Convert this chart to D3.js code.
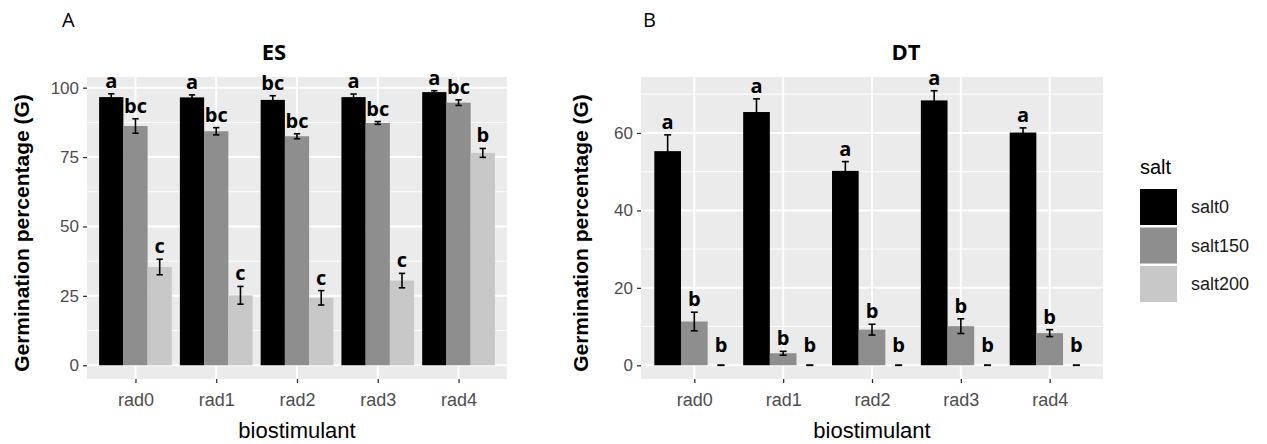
<!DOCTYPE html>
<html>
<head>
<meta charset="utf-8">
<script src="https://cdn.jsdelivr.net/npm/d3@7"></script>
<style>
  body { margin: 0; background: #fff; }
  text { font-family: "Liberation Sans", Arial, sans-serif; }
</style>
</head>
<body>
<div id="chart"></div>
<script>
// data
var biostimulants = ["rad0", "rad1", "rad2", "rad3", "rad4"];
var salts = ["salt0", "salt150", "salt200"];
var saltColors = ["#000000", "#8e8e8e", "#c8c8c8"];

// panel A (ES)
var esMean = {
  salt0:   [96.6, 96.5, 95.6, 96.6, 98.4],
  salt150: [86.2, 84.3, 82.5, 87.3, 94.6],
  salt200: [35.4, 25.2, 24.3, 30.5, 76.5]
};
var esSe = {
  salt0:   [1.2, 0.9, 1.5, 1.1, 0.5],
  salt150: [2.6, 1.3, 0.9, 0.5, 1.0],
  salt200: [2.8, 3.2, 2.6, 2.6, 1.6]
};
var esLetters = {
  salt0:   ["a", "a", "bc", "a", "a"],
  salt150: ["bc", "bc", "bc", "bc", "bc"],
  salt200: ["c", "c", "c", "c", "b"]
};
var esTicks = [0, 25, 50, 75, 100];

// panel B (DT)
var dtMean = {
  salt0:   [55.3, 65.4, 50.2, 68.4, 60.1],
  salt150: [11.3, 3.1, 9.2, 10.1, 8.3],
  salt200: [0, 0, 0, 0, 0]
};
var dtSe = {
  salt0:   [4.2, 3.4, 2.4, 2.5, 1.2],
  salt150: [2.4, 0.5, 1.4, 1.9, 0.9],
  salt200: [0, 0, 0, 0, 0]
};
var dtLetters = {
  salt0:   ["a", "a", "a", "a", "a"],
  salt150: ["b", "b", "b", "b", "b"],
  salt200: ["b", "b", "b", "b", "b"]
};
var dtTicks = [0, 20, 40, 60];

var W = 1267, H = 444;
var svg = d3.select("#chart").append("svg")
    .attr("width", W)
    .attr("height", H);

var color = d3.scaleOrdinal().domain(salts).range(saltColors);

function drawPanel(opt) {
    var g = svg.append("g");
    var x0 = opt.left, x1 = opt.right, y0 = 77, y1 = 379;

    // ggplot-style 5% expansion on y, 0.6 on discrete x
    var maxTop = d3.max(salts, function (s) {
        return d3.max(opt.mean[s], function (v, i) { return v + opt.se[s][i]; });
    });
    var ex = maxTop * 0.05;
    var y = d3.scaleLinear().domain([-ex, maxTop + ex]).range([y1, y0]);
    var x = d3.scalePoint().domain(biostimulants).range([x0, x1]).padding(0.6);
    var step = x.step();
    var sub = d3.scaleBand().domain(salts).range([-0.45 * step, 0.45 * step]);

    // panel background
    g.append("rect")
        .attr("x", x0).attr("y", y0)
        .attr("width", x1 - x0).attr("height", y1 - y0)
        .attr("fill", "#ebebeb");

    // minor grid
    var minor = [];
    for (var k = 0; k < opt.ticks.length - 1; k++) {
        minor.push((opt.ticks[k] + opt.ticks[k + 1]) / 2);
    }
    var lastT = opt.ticks[opt.ticks.length - 1], dt = opt.ticks[1] - opt.ticks[0];
    if (lastT + dt / 2 < y.domain()[1]) minor.push(lastT + dt / 2);
    g.selectAll(".minor").data(minor).enter().append("line")
        .attr("x1", x0).attr("x2", x1)
        .attr("y1", function (d) { return y(d); })
        .attr("y2", function (d) { return y(d); })
        .attr("stroke", "#fff").attr("stroke-width", 1);

    // major grid
    g.selectAll(".hmajor").data(opt.ticks).enter().append("line")
        .attr("x1", x0).attr("x2", x1)
        .attr("y1", function (d) { return y(d); })
        .attr("y2", function (d) { return y(d); })
        .attr("stroke", "#fff").attr("stroke-width", 2);
    g.selectAll(".vmajor").data(biostimulants).enter().append("line")
        .attr("x1", function (d) { return x(d); })
        .attr("x2", function (d) { return x(d); })
        .attr("y1", y0).attr("y2", y1)
        .attr("stroke", "#fff").attr("stroke-width", 2);

    // bars, error bars, letters
    salts.forEach(function (s) {
        var rows = biostimulants.map(function (b, i) {
            return { b: b, m: opt.mean[s][i], se: opt.se[s][i], lab: opt.letters[s][i] };
        });
        var bw = sub.bandwidth();
        function cx(d) { return x(d.b) + sub(s) + bw / 2; }

        g.selectAll(".bar-" + s).data(rows).enter().append("rect")
            .attr("x", function (d) { return x(d.b) + sub(s); })
            .attr("width", bw)
            .attr("y", function (d) { return y(d.m); })
            .attr("height", function (d) { return y(0) - y(d.m); })
            .attr("fill", color(s));

        var cap = bw * 0.13;
        var eb = g.selectAll(".err-" + s).data(rows).enter().append("g")
            .attr("stroke", "#000").attr("stroke-width", 1.6);
        eb.append("line")
            .attr("x1", cx).attr("x2", cx)
            .attr("y1", function (d) { return y(d.m - d.se); })
            .attr("y2", function (d) { return y(d.m + d.se); });
        eb.append("line")
            .attr("x1", function (d) { return cx(d) - cap; })
            .attr("x2", function (d) { return cx(d) + cap; })
            .attr("y1", function (d) { return y(d.m + d.se); })
            .attr("y2", function (d) { return y(d.m + d.se); });
        eb.append("line")
            .attr("x1", function (d) { return cx(d) - cap; })
            .attr("x2", function (d) { return cx(d) + cap; })
            .attr("y1", function (d) { return y(d.m - d.se); })
            .attr("y2", function (d) { return y(d.m - d.se); });

        g.selectAll(".lab-" + s).data(rows).enter().append("text")
            .attr("x", cx)
            .attr("y", function (d) { return Math.min(y(d.m + d.se) - 6, y(0) - 13); })
            .attr("text-anchor", "middle")
            .style("font-family", "'Open Sans', sans-serif")
            .style("font-weight", "bold")
            .style("font-size", "20px")
            .attr("fill", "#000")
            .text(function (d) { return d.lab; });
    });

    // y axis
    var ya = g.append("g").attr("transform", "translate(" + x0 + ",0)")
        .call(d3.axisLeft(y).tickValues(opt.ticks).tickSize(4).tickPadding(4));
    ya.select(".domain").remove();
    ya.selectAll(".tick line").attr("stroke", "#333").attr("stroke-width", 1.3);
    ya.selectAll(".tick text").attr("fill", "#4d4d4d")
        .style("font-size", "17px").style("font-family", "'Liberation Sans', Arial, sans-serif");

    // x axis
    var xa = g.append("g").attr("transform", "translate(0," + y1 + ")")
        .call(d3.axisBottom(x).tickSize(4).tickPadding(10));
    xa.select(".domain").remove();
    xa.selectAll(".tick line").attr("stroke", "#333").attr("stroke-width", 1.3);
    xa.selectAll(".tick text").attr("fill", "#4d4d4d")
        .style("font-size", "18px").style("font-family", "'Liberation Sans', Arial, sans-serif");

    // axis titles
    g.append("text")
        .attr("x", (x0 + x1) / 2).attr("y", 438)
        .attr("text-anchor", "middle")
        .style("font-size", "22px")
        .attr("fill", "#000")
        .text("biostimulant");
    g.append("text")
        .attr("transform", "translate(" + opt.ytitleX + "," + 233 + ") rotate(-90)")
        .attr("text-anchor", "middle")
        .style("font-size", "21px")
        .style("font-weight", "bold")
        .attr("fill", "#000")
        .text("Germination percentage (G)");

    // panel title and tag
    g.append("text")
        .attr("x", opt.titleX).attr("y", 60)
        .attr("text-anchor", "middle")
        .style("font-family", "'Open Sans', sans-serif")
        .style("font-weight", "bold")
        .style("font-size", "22px")
        .text(opt.title);
    g.append("text")
        .attr("x", opt.tagX).attr("y", 27)
        .style("font-family", "'Open Sans', sans-serif")
        .style("font-size", "20px")
        .text(opt.tag);
}

drawPanel({ left: 87, right: 507, mean: esMean, se: esSe, letters: esLetters,
    ticks: esTicks, title: "ES", titleX: 274, tag: "A", tagX: 62, ytitleX: 29 });
drawPanel({ left: 641, right: 1103, mean: dtMean, se: dtSe, letters: dtLetters,
    ticks: dtTicks, title: "DT", titleX: 906, tag: "B", tagX: 643, ytitleX: 588 });

// legend
var lg = svg.append("g").attr("transform", "translate(1140,0)");
lg.append("text").attr("x", 0).attr("y", 174)
    .style("font-size", "20px").attr("fill", "#000").text("salt");
var items = lg.selectAll(".key").data(salts).enter().append("g")
    .attr("transform", function (d, i) { return "translate(0," + (189 + i * 38.5) + ")"; });
items.append("rect")
    .attr("width", 37).attr("height", 36)
    .attr("fill", function (d) { return color(d); });
items.append("text")
    .attr("x", 51).attr("y", 18).attr("dy", "0.35em")
    .style("font-size", "18px").attr("fill", "#1a1a1a")
    .text(function (d) { return d; });
</script>
</body>
</html>
